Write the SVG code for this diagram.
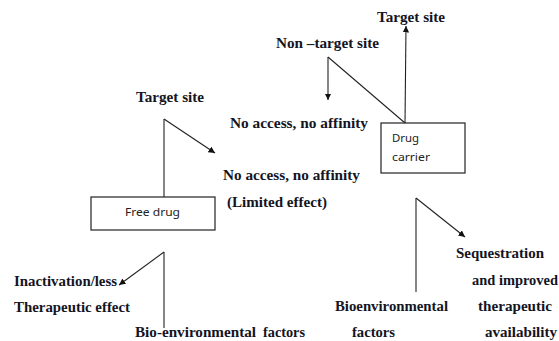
<svg xmlns="http://www.w3.org/2000/svg" width="559" height="341" viewBox="0 0 559 341">
<style>
.lbl{font-family:"Liberation Serif","Times New Roman",serif;font-weight:bold;font-size:14px;fill:#141422}
.box{fill:#fff;stroke:#222;stroke-width:1.2}
.bt{font-family:"Noto Sans","Liberation Sans",sans-serif;font-size:11.5px;fill:#222}
.ln{fill:none;stroke:#222;stroke-width:1.1}
.ar{fill:none;stroke:#222;stroke-width:1.1;marker-end:url(#ah)}
</style>
<defs>
<marker id="ah" viewBox="0 0 10 10" refX="10" refY="5" markerWidth="6.5" markerHeight="6.5" markerUnits="userSpaceOnUse" orient="auto">
<path d="M0,0 L10,5 L0,10 z" fill="#111"/>
</marker>
</defs>
<rect width="559" height="341" fill="#fff"/>
<g id="connectors">
<line class="ln" x1="164" y1="119" x2="164" y2="197"/>
<line class="ar" x1="164" y1="119" x2="215" y2="153"/>
<line class="ln" x1="164" y1="252" x2="164" y2="328"/>
<line class="ar" x1="164" y1="252" x2="119" y2="285"/>
<line class="ar" x1="405" y1="123" x2="406" y2="26"/>
<line class="ln" x1="405" y1="123" x2="328" y2="57"/>
<line class="ar" x1="328" y1="57" x2="328" y2="100"/>
<line class="ln" x1="416" y1="198" x2="416" y2="292"/>
<line class="ar" x1="416" y1="198" x2="465" y2="237"/>
</g>
<g id="free-drug">
<rect class="box" x="91" y="197" width="124" height="33"/>
<text class="bt" x="125" y="216" textLength="55" lengthAdjust="spacingAndGlyphs">Free drug</text>
</g>
<g id="drug-carrier">
<rect class="box" x="381" y="123" width="84" height="50"/>
<text class="bt" x="392" y="142" textLength="27" lengthAdjust="spacingAndGlyphs">Drug</text>
<text class="bt" x="392" y="161" textLength="38" lengthAdjust="spacingAndGlyphs">carrier</text>
</g>
<g id="target-site-right"><text class="lbl" x="377" y="22" textLength="68" lengthAdjust="spacingAndGlyphs">Target site</text></g>
<g id="non-target-site"><text class="lbl" x="276" y="48" textLength="103" lengthAdjust="spacingAndGlyphs">Non –target site</text></g>
<g id="no-access-1"><text class="lbl" x="230" y="127.5" textLength="138" lengthAdjust="spacingAndGlyphs">No access, no affinity</text></g>
<g id="target-site-left"><text class="lbl" x="136" y="102" textLength="68" lengthAdjust="spacingAndGlyphs">Target site</text></g>
<g id="no-access-2">
<text class="lbl" x="223" y="179.5" textLength="137" lengthAdjust="spacingAndGlyphs">No access, no affinity</text>
<text class="lbl" x="227" y="207" textLength="100" lengthAdjust="spacingAndGlyphs">(Limited effect)</text>
</g>
<g id="inactivation">
<text class="lbl" x="14" y="286" textLength="103" lengthAdjust="spacingAndGlyphs">Inactivation/less</text>
<text class="lbl" x="14" y="312" textLength="116" lengthAdjust="spacingAndGlyphs">Therapeutic effect</text>
</g>
<g id="bio-left">
<text class="lbl" x="135" y="337" textLength="121" lengthAdjust="spacingAndGlyphs">Bio-environmental</text>
<text class="lbl" x="263" y="337" textLength="42" lengthAdjust="spacingAndGlyphs">factors</text>
</g>
<g id="bio-right">
<text class="lbl" x="335" y="311" textLength="113" lengthAdjust="spacingAndGlyphs">Bioenvironmental</text>
<text class="lbl" x="352" y="337" textLength="43" lengthAdjust="spacingAndGlyphs">factors</text>
</g>
<g id="sequestration">
<text class="lbl" x="456" y="258" textLength="88" lengthAdjust="spacingAndGlyphs">Sequestration</text>
<text class="lbl" x="472" y="285" textLength="86" lengthAdjust="spacingAndGlyphs">and improved</text>
<text class="lbl" x="478" y="311" textLength="74" lengthAdjust="spacingAndGlyphs">therapeutic</text>
<text class="lbl" x="485" y="337" textLength="72" lengthAdjust="spacingAndGlyphs">availability</text>
</g>
</svg>
